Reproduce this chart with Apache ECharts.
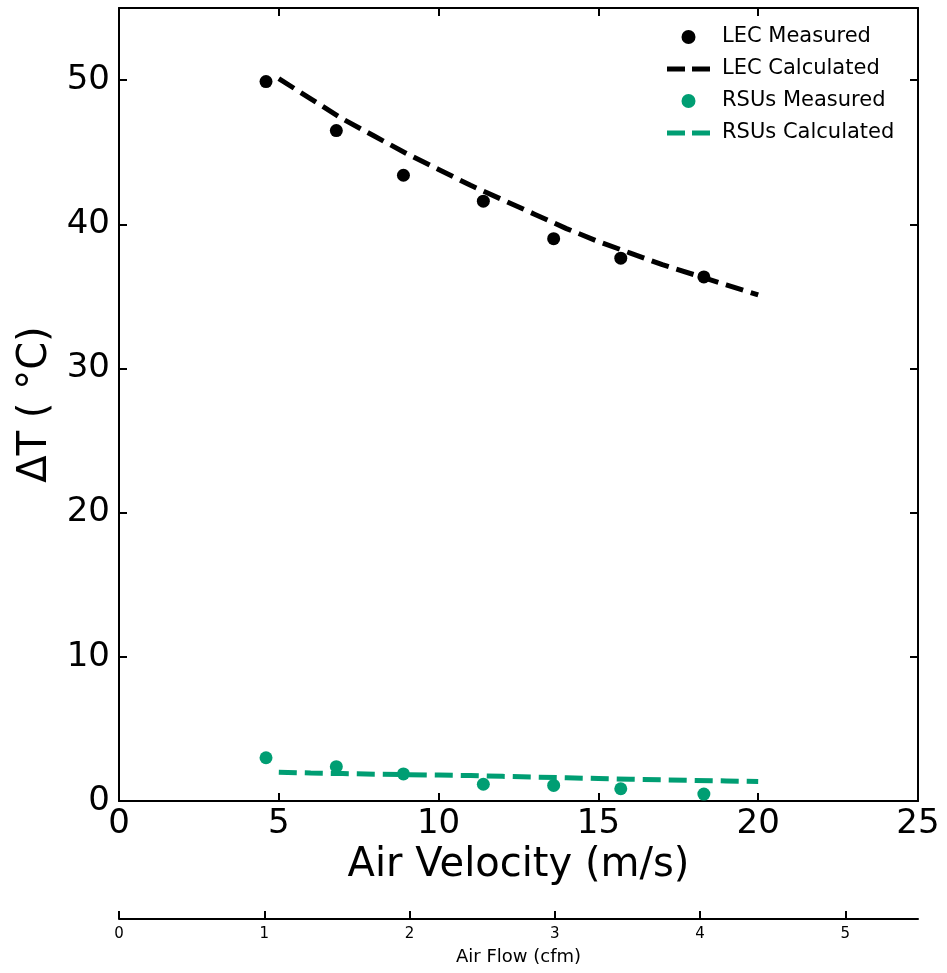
<!DOCTYPE html>
<html>
<head>
<meta charset="utf-8">
<script src="https://cdn.jsdelivr.net/npm/echarts@6/dist/echarts.min.js"></script>
<style>html,body{margin:0;background:#fff}#main{width:947px;height:973px}</style>
</head>
<body>
<div id="main"></div>
<script>
// measured points (air velocity, m/s)
var measuredX = [4.6, 6.8, 8.9, 11.4, 13.6, 15.7, 18.3];
var lecMeasured = [49.9, 46.5, 43.4, 41.6, 39.0, 37.65, 36.35];
var rsuMeasured = [3.0, 2.38, 1.88, 1.16, 1.08, 0.85, 0.48];
// calculated curves
var calcX = [5, 6, 7, 8, 9, 10, 11, 12, 13, 14, 15, 16, 17, 18, 19, 20];
var lecCalc = [50.1, 48.7, 47.3, 46.1, 44.9, 43.8, 42.7, 41.7, 40.7, 39.7, 38.8, 38.0, 37.2, 36.5, 35.8, 35.1];
var rsuCalc = [2.0, 1.94, 1.9, 1.86, 1.83, 1.8, 1.76, 1.71, 1.66, 1.61, 1.56, 1.51, 1.47, 1.43, 1.39, 1.35];
// ticks
var velocityTicks = [0, 5, 10, 15, 20, 25];
var tempTicks = [0, 10, 20, 30, 40, 50];
var flowTicks = [0, 1, 2, 3, 4, 5];

var green = '#009E73';
var font = 'DejaVu Sans';
// two dashes, padded to the full icon box so they are not stretched
var dashIcon = 'path://M0,0M43,14M0,4.5h18v5h-18zM25,4.5h18v5h-18z';

function pairs(xs, ys) {
  var out = [];
  for (var i = 0; i < xs.length; i++) out.push([xs[i], ys[i]]);
  return out;
}

var frameLine = {show: true, onZero: false, lineStyle: {color: '#000', width: 2}};
function inTick(vals) {
  return {show: true, inside: true, length: 8, customValues: vals, lineStyle: {color: '#000', width: 2}};
}

var option = {
  animation: false,
  backgroundColor: '#fff',
  grid: {left: 119, right: 29, top: 8, bottom: 172},
  legend: {
    orient: 'vertical',
    left: 662,
    top: 20,
    itemWidth: 43,
    itemHeight: 14,
    itemGap: 8,
    textStyle: {fontFamily: font, fontSize: 21, color: '#000', lineHeight: 24, padding: [0, 0, 0, 7]},
    data: [
      {name: 'LEC Measured', icon: 'circle'},
      {name: 'LEC Calculated', icon: dashIcon},
      {name: 'RSUs Measured', icon: 'circle'},
      {name: 'RSUs Calculated', icon: dashIcon}
    ]
  },
  xAxis: [
    {
      type: 'value', min: 0, max: 25, position: 'bottom',
      name: 'Air Velocity (m/s)', nameLocation: 'middle', nameGap: 45,
      nameTextStyle: {fontFamily: font, fontSize: 40, color: '#000'},
      axisLine: frameLine,
      axisTick: inTick(velocityTicks),
      axisLabel: {customValues: velocityTicks, fontFamily: font, fontSize: 34, color: '#000', margin: 6},
      splitLine: {show: false}
    },
    {
      type: 'value', min: 0, max: 25, position: 'top',
      axisLine: frameLine,
      axisTick: inTick(velocityTicks),
      axisLabel: {show: false},
      splitLine: {show: false}
    },
    {
      type: 'value', min: 0, max: 5.5, position: 'bottom', offset: 118,
      name: 'Air Flow (cfm)', nameLocation: 'middle', nameGap: 29,
      nameTextStyle: {fontFamily: font, fontSize: 18, color: '#000'},
      axisLine: frameLine,
      axisTick: inTick(flowTicks),
      axisLabel: {customValues: flowTicks, fontFamily: font, fontSize: 15, color: '#000', margin: 8},
      splitLine: {show: false}
    }
  ],
  yAxis: [
    {
      type: 'value', min: 0, max: 55, position: 'left',
      name: 'ΔT ( °C)', nameLocation: 'middle', nameGap: 52,
      nameTextStyle: {fontFamily: font, fontSize: 40, color: '#000'},
      axisLine: frameLine,
      axisTick: inTick(tempTicks),
      axisLabel: {customValues: tempTicks, fontFamily: font, fontSize: 34, color: '#000', margin: 9},
      splitLine: {show: false}
    },
    {
      type: 'value', min: 0, max: 55, position: 'right',
      axisLine: frameLine,
      axisTick: inTick(tempTicks),
      axisLabel: {show: false},
      splitLine: {show: false}
    }
  ],
  series: [
    {
      name: 'LEC Measured', type: 'scatter', xAxisIndex: 0, yAxisIndex: 0,
      symbol: 'circle', symbolSize: 13, itemStyle: {color: '#000', opacity: 1},
      data: pairs(measuredX, lecMeasured), z: 3
    },
    {
      name: 'LEC Calculated', type: 'line', xAxisIndex: 0, yAxisIndex: 0,
      symbol: 'none', itemStyle: {color: '#000'},
      lineStyle: {color: '#000', width: 5, type: [18, 8], cap: 'butt'},
      data: pairs(calcX, lecCalc), z: 2
    },
    {
      name: 'RSUs Measured', type: 'scatter', xAxisIndex: 0, yAxisIndex: 0,
      symbol: 'circle', symbolSize: 13, itemStyle: {color: green, opacity: 1},
      data: pairs(measuredX, rsuMeasured), z: 3
    },
    {
      name: 'RSUs Calculated', type: 'line', xAxisIndex: 0, yAxisIndex: 0,
      symbol: 'none', itemStyle: {color: green},
      lineStyle: {color: green, width: 5, type: [18, 8], cap: 'butt'},
      data: pairs(calcX, rsuCalc), z: 2
    }
  ]
};

echarts.init(document.getElementById('main')).setOption(option);
</script>
</body>
</html>
